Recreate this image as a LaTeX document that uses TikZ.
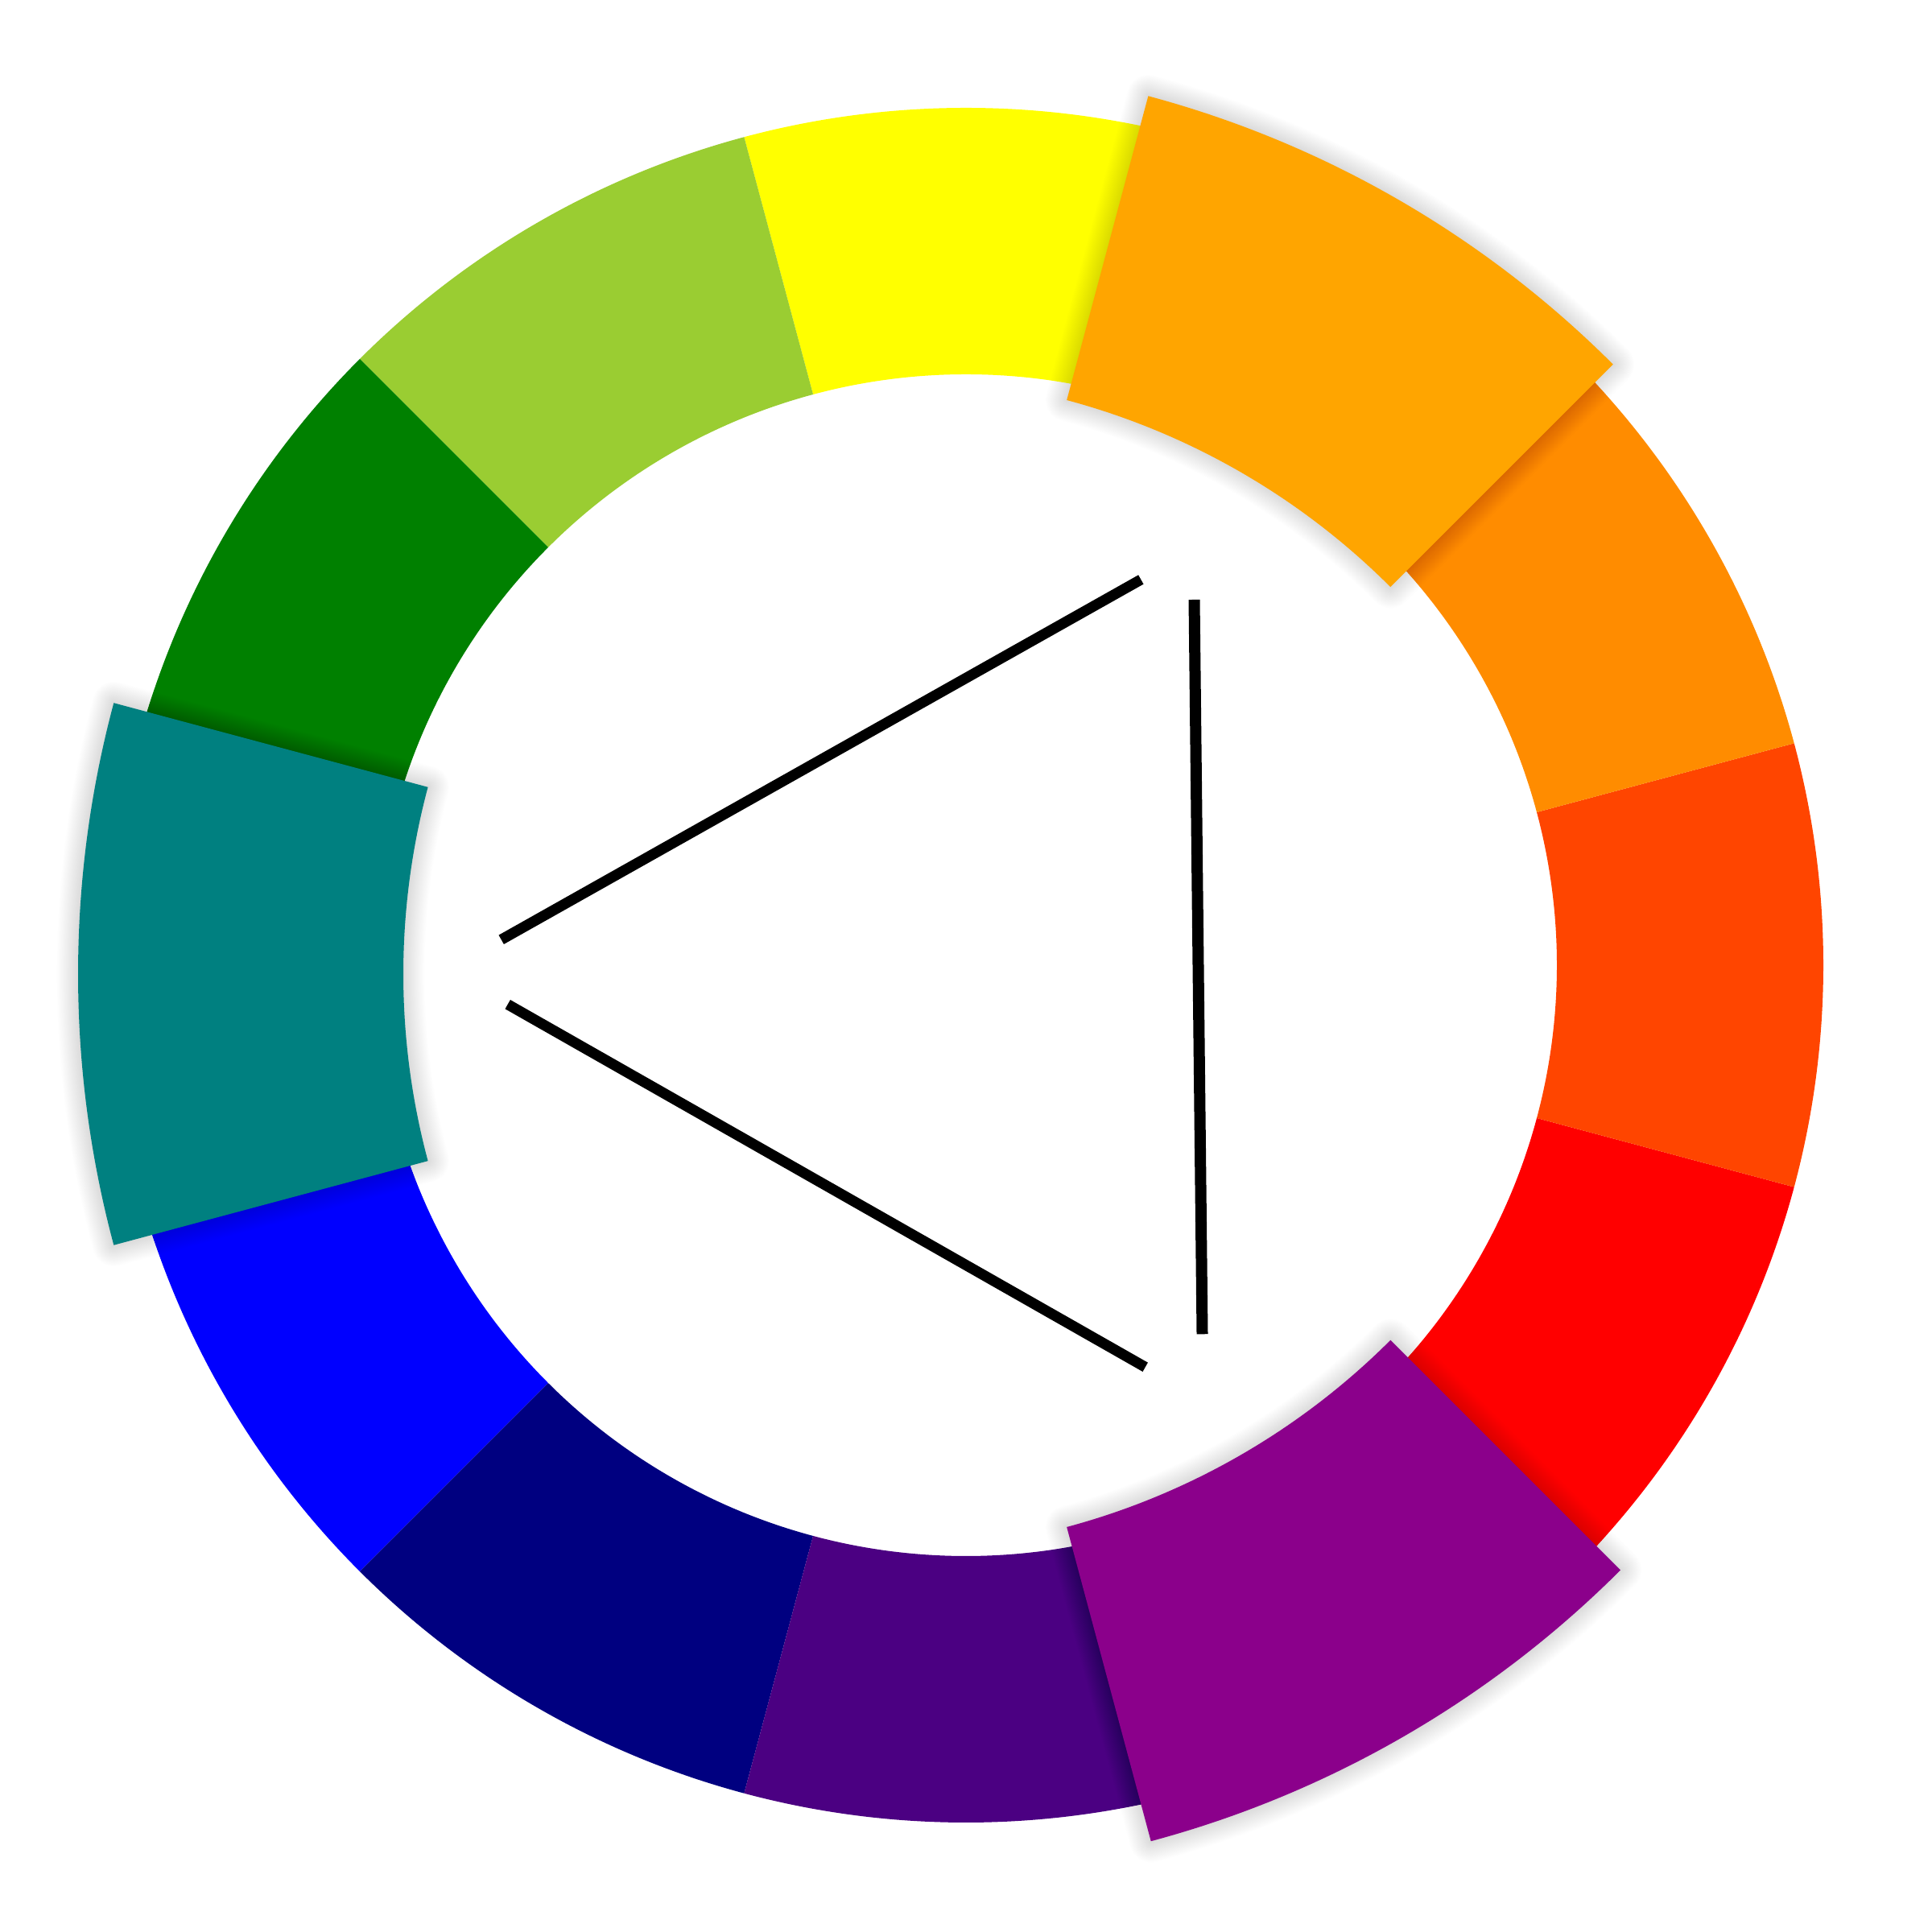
\documentclass[tikz,border=0pt]{standalone}
\definecolor{cYellow}{HTML}{FFFF00}
\definecolor{cYellowGreen}{HTML}{9ACD32}
\definecolor{cGreen}{HTML}{008000}
\definecolor{cTeal}{HTML}{008080}
\definecolor{cBlue}{HTML}{0000FF}
\definecolor{cNavy}{HTML}{000080}
\definecolor{cIndigo}{HTML}{4B0082}
\definecolor{cPurple}{HTML}{8B008B}
\definecolor{cRed}{HTML}{FF0000}
\definecolor{cOrangeRed}{HTML}{FF4500}
\definecolor{cDarkOrange}{HTML}{FF8C00}
\definecolor{cOrange}{HTML}{FFA500}
\newcommand{\segpath}[4]{(#1:#3) arc[start angle=#1, end angle=#2, radius=#3]
    -- (#2:#4) arc[start angle=#2, end angle=#1, radius=#4] -- cycle}
\newcommand{\wheelseg}[5]{\fill[#1] \segpath{#2}{#3}{#4}{#5};}
\newcommand{\hiliteseg}[5]{%
  \foreach \k in {1,...,36}{
    \draw[shadowring, line width={\k*0.42pt}] \segpath{#2}{#3}{#4}{#5};
  }
  \fill[#1] \segpath{#2}{#3}{#4}{#5};}
\tikzset{
  shadowring/.style={draw=black, draw opacity=0.005, line join=round},
  bar/.style={draw=black, line width=0.13cm, line cap=butt},
}
\begin{document}
\begin{tikzpicture}
\useasboundingbox[fill=white] (0,0) rectangle (24,24);
\begin{scope}[shift={(12,12.01)}]
  \wheelseg{cYellow}{75}{105}{7.34}{10.65}
  \wheelseg{cYellowGreen}{105}{135}{7.34}{10.65}
  \wheelseg{cGreen}{135}{165}{7.34}{10.65}
  \wheelseg{cBlue}{195}{225}{7.34}{10.65}
  \wheelseg{cNavy}{225}{255}{7.34}{10.65}
  \wheelseg{cIndigo}{255}{285}{7.34}{10.65}
  \wheelseg{cRed}{315}{345}{7.34}{10.65}
  \wheelseg{cOrangeRed}{-15}{15}{7.34}{10.65}
  \wheelseg{cDarkOrange}{15}{45}{7.34}{10.65}
  % highlighted segments
  \begin{scope}[shift={(-0.08,0.07)}, shift={(240:1.98)}]
    \hiliteseg{cOrange}{45}{75}{8.97}{12.88}
  \end{scope}
  \begin{scope}[shift={(0,-0.11)}, shift={(0:1.98)}]
    \hiliteseg{cTeal}{165}{195}{8.97}{13.01}
  \end{scope}
  \begin{scope}[shift={(-0.08,-0.03)}, shift={(120:1.98)}]
    \hiliteseg{cPurple}{285}{315}{8.97}{13.01}
  \end{scope}
\end{scope}
\coordinate (l1a) at (6.227,12.327);
\coordinate (l1b) at (14.173,16.80);
\coordinate (l2a) at (6.307,11.523);
\coordinate (l2b) at (14.227,7.017);
\coordinate (l3a) at (14.835,16.55);
\coordinate (l3b) at (14.935,7.427);
\draw[bar] (l1a) -- (l1b);
\draw[bar] (l2a) -- (l2b);
\draw[bar, line width=0.14cm] (l3a) -- (l3b);
\end{tikzpicture}
\end{document}
